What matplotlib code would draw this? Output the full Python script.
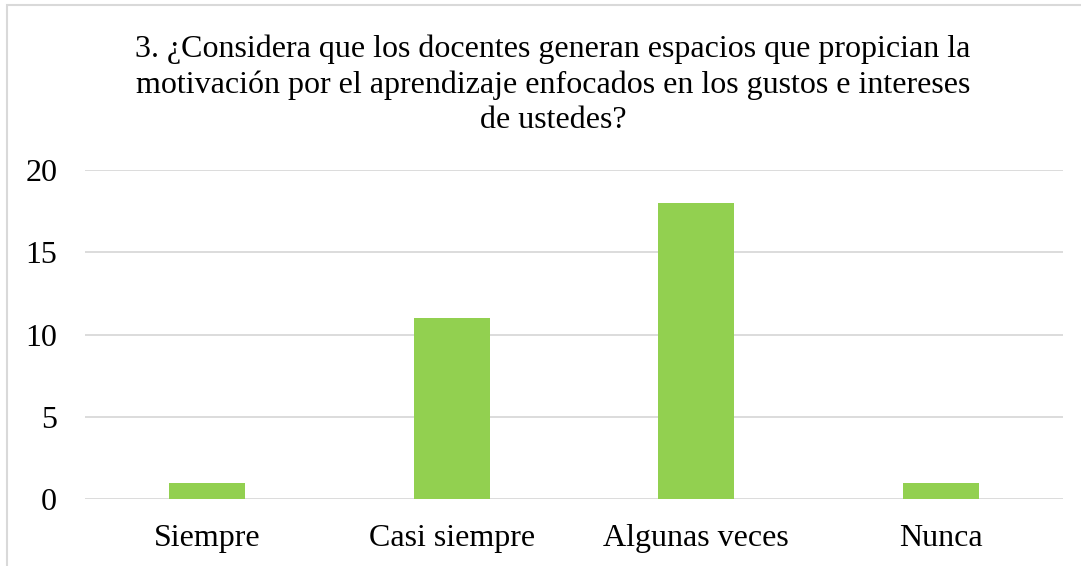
import matplotlib
matplotlib.use("Agg")
import matplotlib.pyplot as plt
from matplotlib.patches import Rectangle

categories = ["Siempre", "Casi siempre", "Algunas veces", "Nunca"]
values = [1, 11, 18, 1]
yticks = [0, 5, 10, 15, 20]
title = ("3. ¿Considera que los docentes generan espacios que propician la\n"
         "motivación por el aprendizaje enfocados en los gustos e intereses\n"
         "de ustedes?")

plt.rcParams['font.family'] = ['Liberation Serif', 'DejaVu Serif']

W, H = 1081, 566
fig = plt.figure(figsize=(W / 100, H / 100), dpi=100)
ax = fig.add_axes([85 / W, (H - 499) / H, (1063 - 85) / W, (499 - 170) / H])

x = list(range(len(categories)))
ax.bar(x, values, width=0.31, color="#92D050", zorder=3)
ax.set_xlim(-0.5, len(categories) - 0.5)
ax.set_ylim(0, 20)
ax.set_yticks(yticks)
ax.set_xticks(x)
ax.set_xticklabels(categories)
ax.tick_params(axis='both', length=0, labelsize=23, colors="#000000")
ax.tick_params(axis='x', pad=18)
ax.tick_params(axis='y', pad=20)
ax.grid(axis='y', color="#D9D9D9", linewidth=1.3, zorder=0)
for s in ax.spines.values():
    s.set_visible(False)

fig.text(553 / W, 1 - 85 / H, title, ha='center', va='center', fontsize=23,
         linespacing=1.27)

fig.add_artist(Rectangle((7 / W, -0.1), 1.2, (H - 5) / H + 0.1,
                         transform=fig.transFigure, fill=False,
                         edgecolor="#D9D9D9", linewidth=1.5))

fig.savefig("out.png", dpi=100)
